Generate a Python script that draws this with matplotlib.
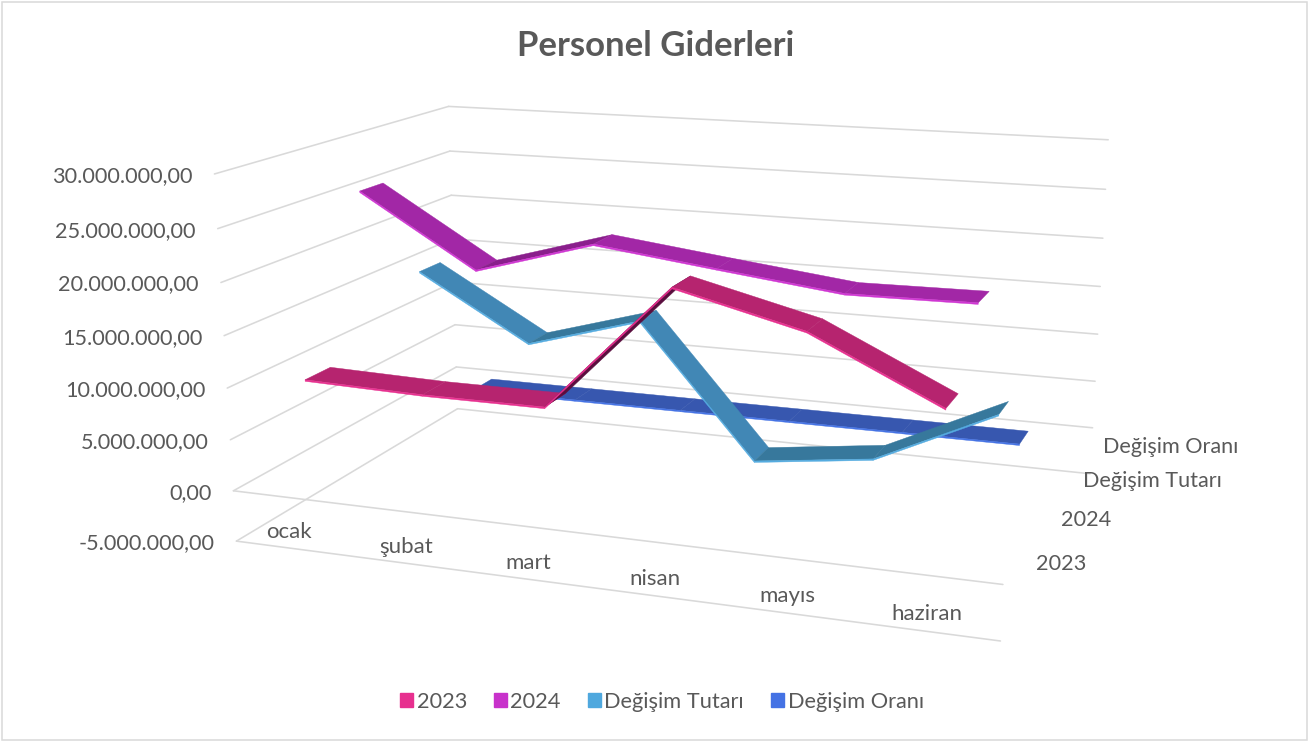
import numpy as np
import matplotlib
matplotlib.use('Agg')
import matplotlib.pyplot as plt
from matplotlib.patches import Patch, Rectangle

months = ['ocak', 'şubat', 'mart', 'nisan', 'mayıs', 'haziran']
series_names = ['2023', '2024', 'Değişim Tutarı', 'Değişim Oranı']
values_2023 = [10400000, 10100000, 10100000, 22000000, 19100000, 13500000]
values_2024 = [26200000, 19300000, 22650000, 21200000, 19800000, 19900000]
values_tutar = [15800000, 9200000, 12550000, -800000, 700000, 6400000]
values_oran = [1.52, 0.91, 1.24, -0.04, 0.04, 0.47]
tick_values = [30000000, 25000000, 20000000, 15000000, 10000000, 5000000, 0, -5000000]
tick_labels = ['30.000.000,00', '25.000.000,00', '20.000.000,00', '15.000.000,00',
               '10.000.000,00', '5.000.000,00', '0,00', '-5.000.000,00']

#top face, top face when climbing, lit front edge, legend key
styles = [('#B6246F', '#5A0E3E', '#E7308F', '#E7308F'),
          ('#A227A6', '#8A1F8C', '#CF36D2', '#C832CB'),
          ('#4187B5', '#37789C', '#55ACE0', '#4FA8DE'),
          ('#3757AF', '#3757AF', '#4472E4', '#4472E4')]
TEXT = '#595959'
GRID = '#D9D9D9'
plt.rcParams['font.family'] = ['Lato', 'DejaVu Sans']

#camera fit: box corners (month, series, value in millions) -> pixel
box_pts = [(0,0,30,215,174), (0,0,25,218,229), (0,0,20,221,283), (0,0,15,224,337),
           (0,0,10,227,388), (0,0,5,230,439), (0,0,0,233,490), (0,0,-5,236,541),
           (0,4,30,448,106), (0,4,25,450,151), (0,4,20,451,195), (0,4,0,457,367),
           (0,4,-5,458,409), (6,4,30,1108,140), (6,4,25,1106,189), (6,4,20,1103,238),
           (6,4,15,1100,286), (6,4,10,1098,334), (6,4,5,1095,382), (6,4,0,1092,428),
           (6,4,-5,1090,474), (6,0,0,1003,584), (6,0,-5,1001,641)]

def fit_camera(pts):
    A = []
    b = []
    for x, y, z, u, v in pts:
        A.append([x, y, z, 1, 0, 0, 0, 0, -u*x, -u*y, -u*z])
        b.append(u)
        A.append([0, 0, 0, 0, x, y, z, 1, -v*x, -v*y, -v*z])
        b.append(v)
    p = np.linalg.lstsq(np.array(A, float), np.array(b, float), rcond=None)[0]
    return np.append(p, 1).reshape(3, 4)

CAM = fit_camera(box_pts)

def project(x, y, z):
    h = CAM @ np.array([x, y, z, 1.0])
    return h[0]/h[2], h[1]/h[2]

def line3d(ax, a, b):
    pa = project(*a)
    pb = project(*b)
    ax.plot([pa[0], pb[0]], [pa[1], pb[1]], color=GRID, lw=1.15, zorder=1,
            solid_capstyle='round')

def ribbon(ax, s, vals, style, scale, order):
    y0, y1 = s + 0.31, s + 0.71
    thick = 0.15
    for i in range(len(vals)-1):
        x0, x1 = i + 0.5, i + 1.5
        z0, z1 = vals[i]/scale, vals[i+1]/scale
        top = style[1] if z1 - z0 > 1 else style[0]
        poly = [project(x0, y0, z0), project(x1, y0, z1),
                project(x1, y1, z1), project(x0, y1, z0)]
        ax.fill(*zip(*poly), color=top, lw=0.3, zorder=order)
        face = [project(x0, y0, z0), project(x1, y0, z1),
                project(x1, y0, z1-thick), project(x0, y0, z0-thick)]
        ax.fill(*zip(*face), color=style[2], lw=0.3, zorder=order+0.1)

fig = plt.figure(figsize=(13.08, 7.42), dpi=100)
ax = fig.add_axes([0, 0, 1, 1])
ax.set_xlim(0, 1308)
ax.set_ylim(742, 0)
ax.axis('off')
ax.add_patch(Rectangle((1.5, 1.5), 1305, 738.5, fill=False, ec=GRID, lw=1.1))

ax.text(656, 46, 'Personel Giderleri', ha='center', va='center', fontsize=25,
        fontweight='bold', color=TEXT)

#walls and floor
for t, lab in zip(tick_values, tick_labels):
    z = t/1e6
    line3d(ax, (0, 0, z), (0, 4, z))
    line3d(ax, (0, 4, z), (6, 4, z))
    u, v = project(0, 0, z)
    ax.text(u - 22, v + 2, lab, ha='right', va='center', fontsize=15.6, color=TEXT)
for z in [0, -5]:
    line3d(ax, (0, 0, z), (6, 0, z))

#back series first
ribbon(ax, 3, values_oran, styles[3], 1e6, 5)
ribbon(ax, 2, values_tutar, styles[2], 1e6, 6)
ribbon(ax, 1, values_2024, styles[1], 1e6, 7)
ribbon(ax, 0, values_2023, styles[0], 1e6, 8)

for i, m in enumerate(months):
    u, v = project(i + 0.5, 0, -3.4)
    ax.text(u - 3, v + 6, m, ha='center', va='baseline', fontsize=16, color=TEXT)
for s, name in enumerate(series_names):
    u, v = project(6, s + 0.5, -0.3)
    ax.text(u + 20, v, name, ha='left', va='center', fontsize=15.6, color=TEXT, zorder=10)

handles = [Patch(color=st[3], label=n) for st, n in zip(styles, series_names)]
ax.legend(handles=handles, loc='center', bbox_to_anchor=(662, 702),
          bbox_transform=ax.transData, ncol=4, frameon=False, fontsize=15.7,
          labelcolor=TEXT, handlelength=0.6, handleheight=0.6, handletextpad=0.15,
          columnspacing=1.25)

fig.savefig('out.png', dpi=100)
